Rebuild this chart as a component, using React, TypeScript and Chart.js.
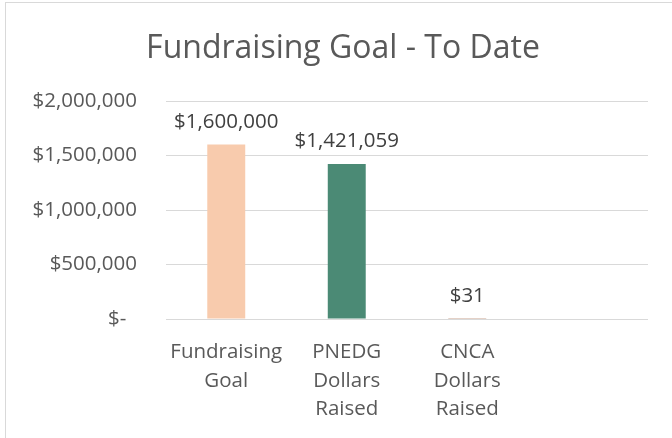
import React, { useEffect, useRef } from "react";
import { Chart, registerables } from "chart.js";

Chart.register(...registerables);

const categories: (string | string[])[] = [
  ["Fundraising", "Goal"],
  ["PNEDG", "Dollars", "Raised"],
  ["CNCA", "Dollars", "Raised"],
  "",
];
const values: (number | null)[] = [1600000, 1421059, 31, null];
const barColors = ["#F8CBAD", "#4B8A75", "#C9A38F", "#FFFFFF"];
const yTicks = [0, 500000, 1000000, 1500000, 2000000];
const yTickLabels = ["$-  ", "$500,000", "$1,000,000", "$1,500,000", "$2,000,000"];
const titleText = "Fundraising Goal - To Date";

const FONT = "'Open Sans', 'Noto Sans', sans-serif";

const fmt = (v: number) => "$" + v.toLocaleString("en-US");

const dataLabelPlugin = {
  id: "dataLabels",
  afterDatasetsDraw(chart: any) {
    const ctx = chart.ctx;
    const meta = chart.getDatasetMeta(0);
    ctx.save();
    ctx.font = `20.5px ${FONT}`;
    ctx.fillStyle = "#404040";
    ctx.textAlign = "center";
    ctx.textBaseline = "alphabetic";
    meta.data.forEach((bar: any, i: number) => {
      const v = values[i];
      if (v === null || v === undefined) return;
      ctx.fillText(fmt(v), bar.x, bar.y - 17);
    });
    ctx.restore();
  },
};

const titlePlugin = {
  id: "customTitle",
  afterDraw(chart: any) {
    const ctx = chart.ctx;
    ctx.save();
    ctx.font = `32px ${FONT}`;
    ctx.fillStyle = "#595959";
    ctx.textAlign = "center";
    ctx.textBaseline = "alphabetic";
    ctx.fillText(titleText, 343, 58);
    ctx.restore();
  },
};

export default function App() {
  const ref = useRef<HTMLCanvasElement>(null);
  useEffect(() => {
    if (!ref.current) return;
    const chart = new Chart(ref.current, {
      type: "bar",
      data: {
        labels: categories,
        datasets: [
          {
            data: values,
            backgroundColor: barColors,
            borderWidth: 0,
            categoryPercentage: 1,
            barPercentage: 0.315,
          },
        ],
      },
      options: {
        animation: false,
        responsive: false,
        devicePixelRatio: 1,
        layout: { padding: { left: 0, right: 24, top: 101, bottom: 0 } },
        plugins: {
          legend: { display: false },
          tooltip: { enabled: false },
          title: { display: false },
        },
        scales: {
          x: {
            grid: { display: false, drawTicks: false },
            border: { display: false },
            ticks: {
              color: "#595959",
              font: { family: FONT, size: 20.5, lineHeight: 1.39 },
              padding: 19,
              maxRotation: 0,
              autoSkip: false,
            },
            afterFit: (s: any) => {
              s.height = 119;
            },
          },
          y: {
            min: 0,
            max: 2000000,
            afterBuildTicks: (s: any) => {
              s.ticks = yTicks.map((v) => ({ value: v }));
            },
            grid: { color: "#D9D9D9", lineWidth: 1, drawTicks: false },
            border: { display: false },
            ticks: {
              color: "#595959",
              font: { family: FONT, size: 20.5 },
              padding: 29,
              callback: (v: any) => {
                const i = yTicks.indexOf(Number(v));
                return i >= 0 ? yTickLabels[i] : "";
              },
            },
            afterFit: (s: any) => {
              s.width = 166;
            },
          },
        },
      },
      plugins: [dataLabelPlugin, titlePlugin],
    });
    return () => chart.destroy();
  }, []);
  return (
    <div style={{ position: "fixed", left: 0, top: 0, width: 672, height: 438, background: "#fff", overflow: "hidden" }}>
      <canvas ref={ref} width={672} height={438} style={{ position: "absolute", left: 0, top: 0 }} />
      <div
        style={{
          position: "absolute",
          left: 5,
          top: 2,
          width: 800,
          height: 600,
          borderLeft: "1px solid #D9D9D9",
          borderTop: "1px solid #D9D9D9",
          pointerEvents: "none",
        }}
      />
    </div>
  );
}
